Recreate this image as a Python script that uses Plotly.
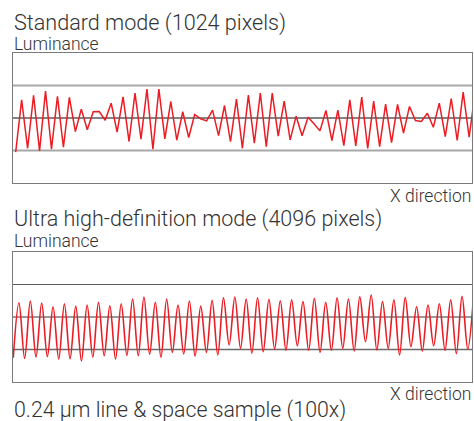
import plotly.graph_objects as go

# ---------------- data ----------------
# Standard mode (1024 pixels): luminance samples (0-100 scale)
std_luminance = [
    23.7, 64.0, 26.7, 67.4, 24.7, 70.7, 26.0, 66.6, 27.5, 65.8,
    39.6, 56.8, 40.9, 54.8, 55.0, 48.3, 61.4, 39.1, 66.3, 31.9,
    69.2, 33.7, 72.2, 26.0, 72.2, 33.9, 62.7, 32.9, 54.8, 35.0,
    52.7, 49.4, 47.8, 56.0, 36.5, 59.6, 31.9, 64.5, 26.7, 67.6,
    30.6, 69.2, 28.0, 69.2, 36.0, 63.0, 33.2, 51.4, 36.3, 50.6,
    45.5, 40.1, 55.8, 32.7, 56.0, 28.8, 64.0, 28.5, 66.1, 26.7,
    63.0, 28.0, 60.7, 31.1, 60.4, 38.3, 58.9, 48.1, 47.3, 53.7,
    42.9, 61.4, 35.7, 65.0, 32.7, 69.9, 35.2, 69.7,
]
std_x = list(range(len(std_luminance)))

# Ultra high-definition mode (4096 pixels): luminance extremes (0-100 scale)
uhd_luminance = [
    18.7, 61.0, 18.2, 62.3, 19.2, 60.8, 19.5, 57.9, 17.7, 60.2,
    17.9, 58.4, 16.2, 59.2, 19.2, 61.3, 20.2, 58.7, 17.7, 60.2,
    20.5, 63.8, 20.2, 65.4, 21.3, 61.3, 19.0, 63.8, 22.8, 59.2,
    21.5, 62.3, 20.0, 58.4, 22.8, 62.8, 20.8, 64.8, 28.5, 65.4,
    25.9, 63.8, 22.1, 64.8, 23.3, 63.6, 25.4, 62.5, 24.4, 63.3,
    27.9, 61.8, 24.4, 64.4, 22.8, 61.3, 24.4, 64.8, 25.9, 63.8,
    23.8, 65.5, 31.0, 66.9, 24.6, 61.8, 25.9, 63.3, 20.8, 65.1,
    27.2, 57.9, 23.8, 59.2, 27.9, 60.2, 24.4, 63.3, 21.8, 65.9,
    25.4, 64.8,
]
uhd_x = list(range(len(uhd_luminance)))

ref_levels = [25, 50, 75]

titles = ["Standard mode (1024 pixels)", "Ultra high-definition mode (4096 pixels)"]
y_label = "Luminance"
x_label = "X direction"
caption = "0.24 µm line & space sample (100x)"

# ---------------- figure ----------------
W, H = 474, 421
RED = "#ec1c24"
TXT = "#333333"
FONT = "Roboto"

def py(p):
    return 1 - p / H

def px(p):
    return p / W

fig = go.Figure()
fig.add_trace(go.Scatter(x=std_x, y=std_luminance, mode="lines",
                         line=dict(color=RED, width=1.5), xaxis="x", yaxis="y",
                         showlegend=False, hoverinfo="skip"))
fig.add_trace(go.Scatter(x=uhd_x, y=uhd_luminance, mode="lines",
                         line=dict(color=RED, width=1.6, shape="spline", smoothing=1.0),
                         xaxis="x2", yaxis="y2", showlegend=False, hoverinfo="skip"))

axis_common = dict(showgrid=False, zeroline=False, showticklabels=False, ticks="",
                   showline=True, mirror=True, linecolor="#7a7a7a", linewidth=1)

fig.update_layout(
    width=W, height=H,
    margin=dict(l=0, r=0, t=0, b=0),
    paper_bgcolor="white", plot_bgcolor="white",
    font=dict(family=FONT, color=TXT),
    xaxis=dict(domain=[px(13), px(472)], range=[-0.45, 76.48], anchor="y", **axis_common),
    yaxis=dict(domain=[py(183), py(53)], range=[0, 100], anchor="x", **axis_common),
    xaxis2=dict(domain=[px(13), px(472)], range=[-0.05, 80.75], anchor="y2", **axis_common),
    yaxis2=dict(domain=[py(382), py(252)], range=[0, 100], anchor="x2", **axis_common),
)

# reference lines
styles_top = {25: ("#a8a8a8", 2), 50: ("#5a5a5a", 1.3), 75: ("#a8a8a8", 2)}
styles_bot = {25: ("#6a6a6a", 1.5), 50: ("#9a9a9a", 2), 75: ("#5a5a5a", 1.1)}
for lvl in ref_levels:
    c, w = styles_top[lvl]
    fig.add_shape(type="line", xref="x domain", yref="y", x0=0, x1=1, y0=lvl, y1=lvl,
                  line=dict(color=c, width=w), layer="below")
    c, w = styles_bot[lvl]
    fig.add_shape(type="line", xref="x2 domain", yref="y2", x0=0, x1=1, y0=lvl, y1=lvl,
                  line=dict(color=c, width=w), layer="below")

def label(text, xpix, ypix, size, anchor="left"):
    fig.add_annotation(text=text, xref="paper", yref="paper", x=px(xpix), y=py(ypix),
                       xanchor=anchor, yanchor="middle", showarrow=False,
                       font=dict(size=size, color=TXT, family=FONT, weight=300),
                       borderpad=0)

label(titles[0], 13, 23.5, 21.6)
label(y_label, 13, 43.5, 17.5)
label(x_label, 472, 195.5, 17.5, anchor="right")
label(titles[1], 13, 219.5, 21.5)
label(y_label, 13, 241, 17.5)
label(x_label, 472, 393.5, 17.5, anchor="right")
label(caption, 13, 410, 21.3)

fig.write_html(
    "out.html",
    config={"displayModeBar": False},
    post_script="document.body.style.margin='0';document.body.style.overflow='hidden';",
)
